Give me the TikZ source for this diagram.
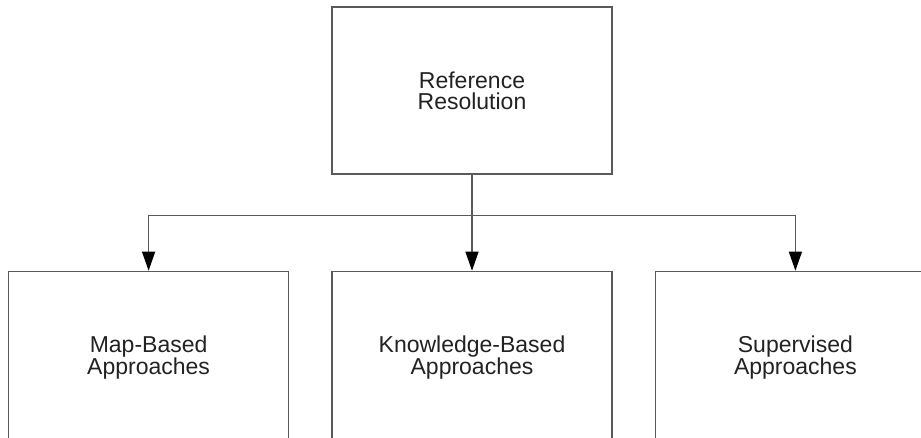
\documentclass[tikz,border=0pt]{standalone}
\usepackage{fontspec}
\setmainfont{Liberation Sans}
\usetikzlibrary{arrows.meta,positioning}
\definecolor{linegray}{HTML}{5A5A5A}
\definecolor{textgray}{HTML}{222222}
\tikzset{
    %Define standard arrow tip
    >={Triangle[length=19pt,width=13pt,color=black]},
    %Define style for boxes
    topic/.style={
           rectangle,
           draw=linegray, line width=1.4pt,
           text=textgray,
           minimum width=280pt,
           minimum height=167pt,
           align=center,
           font=\fontsize{23}{21}\selectfont},
    % Define arrow style
    branch/.style={
           ->,
           draw=linegray,
           line width=1.2pt}
}

\begin{document}
\begin{tikzpicture}[node distance=1cm, auto,]
    \useasboundingbox (0,0) rectangle (921pt,-437pt);
     \node[topic] (refres) at (472pt,-90.5pt) {Reference\\Resolution};
     \node[topic, minimum height=172pt, below=96pt of refres] (knowledge) {Knowledge-Based\\Approaches};
     \node[topic, minimum height=172pt, left=42pt of knowledge] (mapbased) {Map-Based\\Approaches};
     \node[topic, minimum height=172pt, right=42pt of knowledge] (supervised) {Supervised\\Approaches};
     \draw[branch] (refres.south) -- (knowledge.north);
     \draw[branch] (refres.south) -- ++(0,-41pt) -| (mapbased.north);
     \draw[branch] (refres.south) -- ++(0,-41pt) -| (supervised.north);
    \end{tikzpicture}
\end{document}
